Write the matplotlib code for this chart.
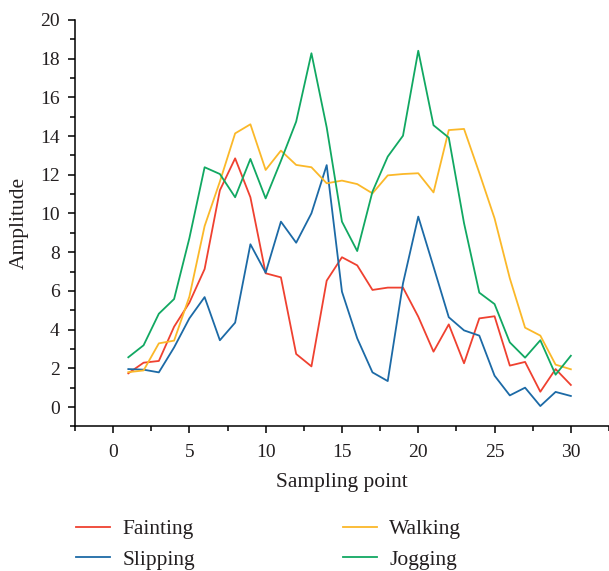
import matplotlib
matplotlib.use("Agg")
import matplotlib.pyplot as plt
from matplotlib.ticker import MultipleLocator

plt.rcParams['font.family'] = ['Liberation Serif', 'DejaVu Serif']

x = list(range(1, 31))
fainting = [1.74, 2.29, 2.38, 4.15, 5.39, 7.13, 11.2, 12.85, 10.84, 6.91,
            6.70, 2.74, 2.10, 6.53, 7.74, 7.32, 6.05, 6.17, 6.17, 4.67,
            2.86, 4.27, 2.26, 4.58, 4.69, 2.14, 2.33, 0.79, 1.96, 1.14]
slipping = [1.96, 1.93, 1.79, 3.08, 4.58, 5.68, 3.45, 4.36, 8.41, 6.94,
            9.58, 8.49, 10.01, 12.5, 5.96, 3.55, 1.79, 1.34, 6.39, 9.84,
            7.25, 4.64, 3.96, 3.69, 1.62, 0.60, 1.0, 0.05, 0.78, 0.57]
walking = [1.80, 1.89, 3.29, 3.43, 5.70, 9.35, 11.65, 14.14, 14.61, 12.25,
           13.25, 12.51, 12.39, 11.56, 11.70, 11.52, 11.04, 11.97, 12.04, 12.08,
           11.09, 14.31, 14.37, 12.1, 9.75, 6.65, 4.10, 3.69, 2.19, 1.95]
jogging = [2.57, 3.19, 4.82, 5.58, 8.72, 12.39, 12.04, 10.84, 12.82, 10.78,
           12.72, 14.75, 18.28, 14.45, 9.58, 8.06, 11.13, 12.94, 14.02, 18.41,
           14.56, 13.92, 9.5, 5.91, 5.32, 3.34, 2.55, 3.45, 1.67, 2.65]

series = [("Fainting", fainting, "#EF4130"),
          ("Slipping", slipping, "#1C6AA6"),
          ("Walking", walking, "#FBB829"),
          ("Jogging", jogging, "#11A862")]

fig = plt.figure(figsize=(6.09, 5.71), dpi=100)
ax = fig.add_axes([0.123, 0.2533, 0.877, 0.7117])

lines = []
for name, vals, col in series:
    ln, = ax.plot(x, vals, color=col, lw=1.3, label=name)
    lines.append(ln)

ax.set_xlim(-2.5, 32.5)
ax.set_ylim(-1, 20)
ax.xaxis.set_major_locator(MultipleLocator(5))
ax.xaxis.set_minor_locator(MultipleLocator(2.5))
ax.yaxis.set_major_locator(MultipleLocator(2))
ax.yaxis.set_minor_locator(MultipleLocator(1))
ax.spines['top'].set_visible(False)
ax.spines['right'].set_visible(False)
for s in ('left', 'bottom'):
    ax.spines[s].set_linewidth(1.1)
ax.tick_params(which='major', direction='out', length=5, width=1.1, labelsize=14,
               labelcolor='#231f20')
ax.tick_params(axis='x', which='major', pad=8)
ax.tick_params(axis='y', which='major', pad=6)
ax.tick_params(which='minor', direction='out', length=3.5, width=1.1)
ax.set_xlabel("Sampling point", fontsize=15.5, labelpad=8, color='#231f20')
ax.set_ylabel("Amplitude", fontsize=15.5, labelpad=8, color='#231f20')

common = dict(loc='upper left', ncol=1, frameon=False, fontsize=15.5,
              handlelength=1.6, labelspacing=0.5, handletextpad=0.55,
              borderpad=0, borderaxespad=0)
leg1 = fig.legend(lines[:2], [s[0] for s in series[:2]],
                  bbox_to_anchor=(76 / 609, 0.091), **common)
leg2 = fig.legend(lines[2:], [s[0] for s in series[2:]],
                  bbox_to_anchor=(343 / 609, 0.091), **common)
for lg in (leg1, leg2):
    for t in lg.get_texts():
        t.set_color('#231f20')
fig.savefig("out.png", dpi=100)
